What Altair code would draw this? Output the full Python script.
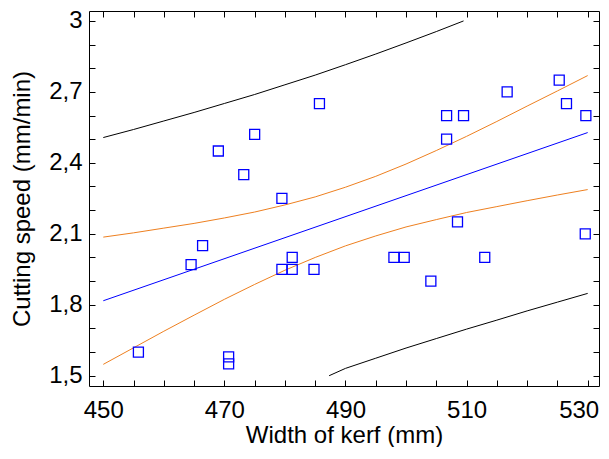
import altair as alt
import pandas as pd

# ---- data ----
pt_x = [455.8, 469.0, 475.0, 473.2, 479.5, 485.7, 466.4, 464.5, 479.5, 481.2, 481.2, 484.8, 470.7, 470.7,
        498.0, 499.7, 504.1, 506.7, 506.7, 509.5, 508.5, 513.0, 516.7, 525.3, 526.5, 529.7, 529.6]
pt_y = [1.60, 2.45, 2.52, 2.35, 2.25, 2.65, 2.05, 1.97, 1.95, 1.95, 2.00, 1.95, 1.58, 1.55,
        2.00, 2.00, 1.90, 2.60, 2.50, 2.60, 2.15, 2.00, 2.70, 2.75, 2.65, 2.60, 2.10]

fit_x = [450, 530]
fit_y = [1.817, 2.528]

band_x = [450, 455, 460, 465, 470, 475, 480, 485, 490, 495, 500, 505, 510, 515, 520, 525, 530]
conf_upper = [2.086, 2.104, 2.124, 2.144, 2.167, 2.192, 2.222, 2.256, 2.297, 2.343, 2.395, 2.452,
              2.512, 2.575, 2.640, 2.704, 2.769]
conf_lower = [1.548, 1.618, 1.688, 1.756, 1.823, 1.886, 1.946, 2.000, 2.049, 2.091, 2.129, 2.160,
              2.190, 2.215, 2.240, 2.264, 2.287]

pred_upper_x = [450, 455, 460, 465, 470, 475, 480, 485, 490, 495, 500, 505, 509.5]
pred_upper_y = [2.507, 2.541, 2.577, 2.613, 2.651, 2.689, 2.730, 2.771, 2.815, 2.860, 2.907, 2.955, 3.0]
pred_lower_x = [487.3, 490, 495, 500, 505, 510, 515, 520, 525, 530]
pred_lower_y = [1.50, 1.531, 1.574, 1.617, 1.657, 1.697, 1.735, 1.774, 1.811, 1.848]

x_ticks = [450, 455, 460, 465, 470, 475, 480, 485, 490, 495, 500, 505, 510, 515, 520, 525, 530]
y_ticks = [1.5, 1.6, 1.7, 1.8, 1.9, 2.0, 2.1, 2.2, 2.3, 2.4, 2.5, 2.6, 2.7, 2.8, 2.9, 3.0]

X_DOMAIN = [447.64, 531.87]
Y_DOMAIN = [1.4565, 3.042]

# ---- tables ----
df_pts = pd.DataFrame({"x": pt_x, "y": pt_y})

rows = []
for name, xs_, ys_ in [
    ("fit", fit_x, fit_y),
    ("conf_upper", band_x, conf_upper),
    ("conf_lower", band_x, conf_lower),
    ("pred_upper", pred_upper_x, pred_upper_y),
    ("pred_lower", pred_lower_x, pred_lower_y),
]:
    for a, b in zip(xs_, ys_):
        rows.append({"x": a, "y": b, "series": name})
df_lines = pd.DataFrame(rows)

xs = alt.Scale(domain=X_DOMAIN, nice=False, zero=False)
ys = alt.Scale(domain=Y_DOMAIN, nice=False, zero=False)

tick_common = dict(domain=False, grid=False, ticks=True, tickSize=6, tickColor="black",
                   tickWidth=1, offset=-6)

x_bottom = alt.Axis(orient="bottom", values=x_ticks,
                    labelExpr="datum.value % 20 == 10 ? datum.label : ''",
                    labelFlush=12, labelFlushOffset=11,
                    labelPadding=12, titlePadding=1, title="Width of kerf (mm)", **tick_common)
y_left = alt.Axis(orient="left", values=y_ticks,
                  labelExpr="round(datum.value * 10) % 3 == 0 ? replace(format(datum.value, '~g'), '.', ',') : ''",
                  labelPadding=7, titlePadding=14, title="Cutting speed (mm/min)", **tick_common)
x_top = alt.Axis(orient="top", values=x_ticks, labels=False, title=None, **tick_common)
y_right = alt.Axis(orient="right", values=y_ticks, labels=False, title=None, **tick_common)

series_dom = ["fit", "conf_upper", "conf_lower", "pred_upper", "pred_lower"]
series_col = ["#0000ff", "#ee8020", "#ee8020", "#000000", "#000000"]

lines = alt.Chart(df_lines).mark_line(strokeWidth=1).encode(
    x=alt.X("x:Q", scale=xs, axis=x_top),
    y=alt.Y("y:Q", scale=ys, axis=y_right),
    color=alt.Color("series:N", scale=alt.Scale(domain=series_dom, range=series_col), legend=None),
)

points = alt.Chart(df_pts).mark_point(shape="square", size=100, filled=False,
                                      color="#0000ff", strokeWidth=1.3, opacity=1).encode(
    x=alt.X("x:Q", scale=xs, axis=x_bottom),
    y=alt.Y("y:Q", scale=ys, axis=y_left),
)

chart = alt.layer(lines, points).resolve_axis(
    x="independent", y="independent"
).properties(
    width=510, height=375,
    autosize=alt.AutoSizeParams(type="none"),
    padding={"left": 81, "top": 3, "right": 1, "bottom": 61},
).configure_view(
    stroke="black", strokeWidth=1
).configure_axis(
    labelFont="Liberation Sans", titleFont="Liberation Sans",
    labelFontSize=24, titleFontSize=24, titleFontWeight="normal",
    labelColor="black", titleColor="black",
)

chart.save("out.html", embed_options={"renderer": "svg", "actions": False})
